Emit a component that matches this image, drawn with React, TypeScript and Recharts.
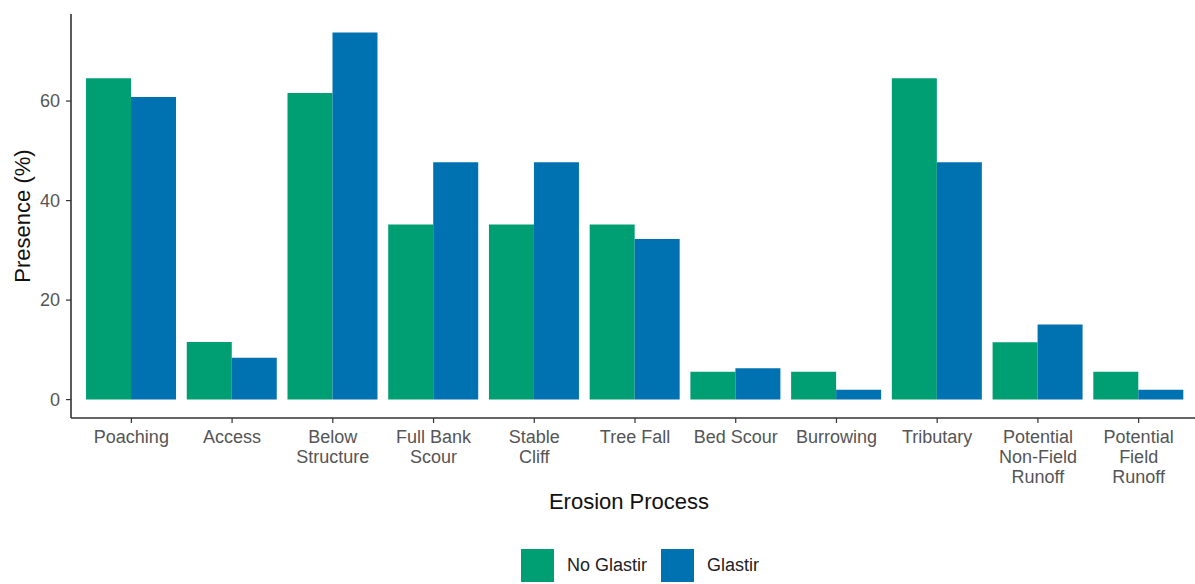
import React from "react";
import { BarChart, Bar, XAxis, YAxis, Legend } from "recharts";

const categories = [
  "Poaching",
  "Access",
  "Below\nStructure",
  "Full Bank\nScour",
  "Stable\nCliff",
  "Tree Fall",
  "Bed Scour",
  "Burrowing",
  "Tributary",
  "Potential\nNon-Field\nRunoff",
  "Potential\nField\nRunoff",
];
const noGlastir = [64.6, 11.6, 61.6, 35.2, 35.2, 35.2, 5.6, 5.6, 64.6, 11.5, 5.6];
const glastir = [60.8, 8.4, 73.8, 47.7, 47.7, 32.3, 6.3, 2.0, 47.7, 15.1, 2.0];
const yTicks = [0, 20, 40, 60];
const seriesNames = ["No Glastir", "Glastir"];
const seriesColors = ["#009E73", "#0072B2"];

const data = categories.map((c, i) => ({
  name: c,
  noGlastir: noGlastir[i],
  glastir: glastir[i],
}));

const FONT = "'Liberation Sans', Arial, Helvetica, sans-serif";

const XTick = (props: any) => {
  const { x, y, payload } = props;
  const lines = String(payload.value).split("\n");
  return (
    <text x={x} y={y} textAnchor="middle" fontFamily={FONT} fontSize={18} fill="#555">
      {lines.map((l: string, i: number) => (
        <tspan key={i} x={x} y={y + 18 + i * 20}>
          {l}
        </tspan>
      ))}
    </text>
  );
};

const YTick = (props: any) => {
  const { x, y, payload } = props;
  return (
    <text x={x} y={y + 6} textAnchor="end" fontFamily={FONT} fontSize={18} fill="#555">
      {payload.value}
    </text>
  );
};

const LegendContent = () => (
  <div
    style={{
      display: "flex",
      alignItems: "center",
      fontFamily: FONT,
      fontSize: 18,
      color: "#222",
      paddingLeft: 521,
      height: 38,
    }}
  >
    {seriesNames.map((n, i) => (
      <div key={n} style={{ display: "flex", alignItems: "center", marginRight: 14 }}>
        <div style={{ width: 33, height: 33, background: seriesColors[i], marginRight: 13 }} />
        <span>{n}</span>
      </div>
    ))}
  </div>
);

export default function App() {
  return (
    <div style={{ position: "absolute", left: 0, top: 0, background: "#fff" }}>
      <BarChart
        width={1195}
        height={584}
        data={data}
        margin={{ top: 14, right: 0, left: 0, bottom: 28 }}
        barCategoryGap="5%"
        barGap={0}
      >
        <XAxis
          dataKey="name"
          interval={0}
          height={100}
          padding={{ left: 10, right: 6 }}
          tick={<XTick />}
          tickSize={5}
          tickMargin={2}
          axisLine={{ stroke: "#333", strokeWidth: 1.6 }}
          tickLine={{ stroke: "#333", strokeWidth: 1.2 }}
          label={(p: any) => {
            const vb = p.viewBox;
            return (
              <text
                x={vb.x + vb.width / 2 - 4}
                y={vb.y + 91}
                textAnchor="middle"
                fontFamily={FONT}
                fontSize={22}
                fill="#111"
              >
                Erosion Process
              </text>
            );
          }}
        />
        <YAxis
          width={71}
          domain={[-3.7, 77.5]}
          ticks={yTicks}
          allowDataOverflow
          tick={<YTick />}
          tickSize={5}
          tickMargin={6}
          axisLine={{ stroke: "#333", strokeWidth: 1.6 }}
          tickLine={{ stroke: "#333", strokeWidth: 1.2 }}
          label={(p: any) => {
            const vb = p.viewBox;
            const cx = vb.x + 22;
            const cy = vb.y + vb.height / 2;
            return (
              <text
                x={cx}
                y={cy}
                transform={`rotate(-90 ${cx} ${cy})`}
                textAnchor="middle"
                dominantBaseline="central"
                fontFamily={FONT}
                fontSize={22}
                fill="#111"
              >
                Presence (%)
              </text>
            );
          }}
        />
        <Legend
          verticalAlign="bottom"
          content={<LegendContent />}
          wrapperStyle={{ left: 0, bottom: 0, width: 1195, height: 38 }}
        />
        <Bar dataKey="noGlastir" name={seriesNames[0]} fill={seriesColors[0]} isAnimationActive={false} />
        <Bar dataKey="glastir" name={seriesNames[1]} fill={seriesColors[1]} isAnimationActive={false} />
      </BarChart>
    </div>
  );
}
